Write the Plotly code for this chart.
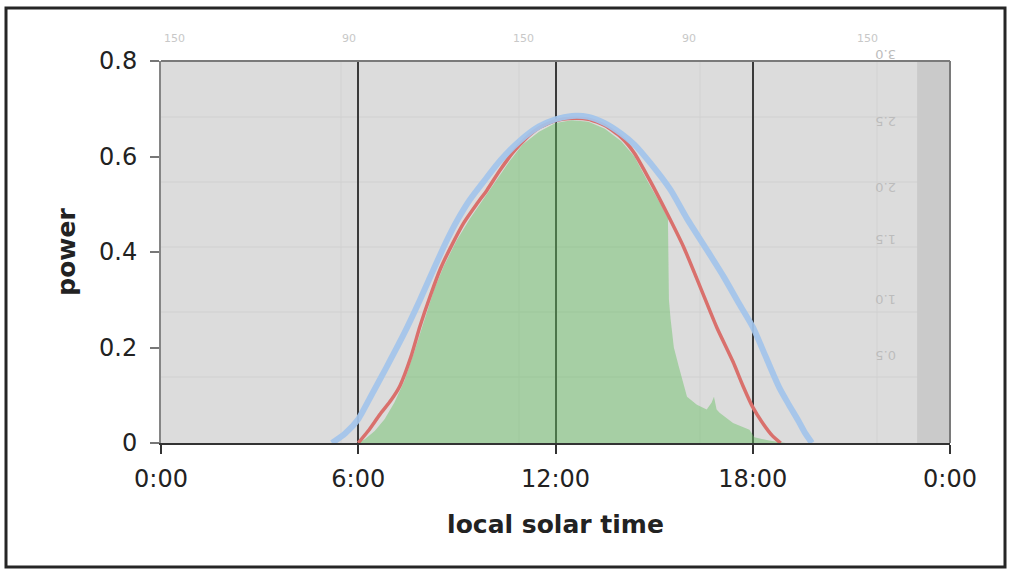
import plotly.graph_objects as go

# ---------------- data ----------------
x_tickvals = [0, 6, 12, 18, 24]
x_ticktext = ["0:00", "6:00", "12:00", "18:00", "0:00"]
y_tickvals = [0, 0.2, 0.4, 0.6, 0.8]
y_ticktext = ["0", "0.2", "0.4", "0.6", "0.8"]

# measured power (green area)
meas_h = [6.0, 6.2, 6.5, 6.8, 7.1, 7.4, 7.7, 8.0, 8.3, 8.6, 9.0, 9.4, 9.8, 10.2,
          10.6, 11.0, 11.5, 12.0, 12.5, 13.0, 13.5, 14.0, 14.4, 14.8, 15.2, 15.42,
          15.45, 15.5, 15.6, 15.75, 15.9, 16.0, 16.3, 16.6, 16.75, 16.82, 16.9,
          17.0, 17.4, 17.9, 18.05, 18.5, 19.0]
meas_p = [0.0, 0.008, 0.025, 0.05, 0.085, 0.13, 0.19, 0.255, 0.32, 0.37, 0.425,
          0.47, 0.51, 0.55, 0.59, 0.625, 0.652, 0.67, 0.676, 0.673, 0.658, 0.632,
          0.6, 0.548, 0.5, 0.47, 0.30, 0.26, 0.2, 0.16, 0.12, 0.097, 0.08, 0.07,
          0.085, 0.097, 0.07, 0.063, 0.042, 0.028, 0.012, 0.005, 0.0]

# red model curve
red_h = [6.0, 6.3, 6.66, 7.0, 7.27, 7.6, 7.88, 8.2, 8.5, 8.85, 9.2, 9.6, 9.92,
         10.3, 10.7, 11.1, 11.5, 12.0, 12.5, 13.0, 13.5, 14.0, 14.4, 14.87, 15.4,
         15.9, 16.4, 16.9, 17.4, 17.7, 18.0, 18.3, 18.6, 18.85]
red_p = [0.0, 0.025, 0.06, 0.09, 0.12, 0.18, 0.245, 0.31, 0.365, 0.415, 0.46, 0.50,
         0.53, 0.57, 0.608, 0.638, 0.66, 0.675, 0.68, 0.678, 0.665, 0.64, 0.607,
         0.55, 0.48, 0.41, 0.327, 0.243, 0.17, 0.12, 0.075, 0.042, 0.015, 0.0]

# blue model curve
blue_h = [5.2, 5.6, 6.0, 6.4, 6.87, 7.4, 7.88, 8.3, 8.7, 9.0, 9.4, 9.9, 10.3,
          10.9, 11.5, 12.0, 12.5, 13.0, 13.5, 14.0, 14.4, 14.9, 15.5, 16.0, 16.6,
          17.1, 17.6, 18.0, 18.4, 18.8, 19.1, 19.4, 19.6, 19.8]
blue_p = [0.0, 0.02, 0.05, 0.1, 0.16, 0.23, 0.30, 0.365, 0.425, 0.465, 0.51, 0.555,
          0.59, 0.632, 0.663, 0.678, 0.685, 0.683, 0.67, 0.648, 0.625, 0.585, 0.53,
          0.47, 0.405, 0.35, 0.29, 0.243, 0.18, 0.117, 0.08, 0.045, 0.02, 0.0]

# faint ghost labels visible in the picture
ghost_top = ["150", "90", "150", "90", "150"]
ghost_right = ["3.0", "2.5", "2.0", "1.5", "1.0", "0.5"]

# ---------------- layout geometry ----------------
W, H = 1015, 575
PL, PR, PT, PB = 161, 950, 61, 443
pw, ph = PR - PL, PB - PT


def px(xp):
    return (xp - PL) / pw


def py(yp):
    return (PB - yp) / ph


fig = go.Figure()

fig.add_trace(go.Scatter(
    x=meas_h, y=meas_p, mode="lines", fill="tozeroy",
    fillcolor="rgba(100,190,95,0.45)", line=dict(width=0, color="rgba(0,0,0,0)"),
    hoverinfo="skip", showlegend=False))
fig.add_trace(go.Scatter(
    x=red_h, y=red_p, mode="lines", line=dict(color="#d9706c", width=3.5,
                                              shape="spline", smoothing=0.6),
    showlegend=False))
fig.add_trace(go.Scatter(
    x=blue_h, y=blue_p, mode="lines", line=dict(color="#a3c5ec", width=6,
                                                shape="spline", smoothing=0.6),
    opacity=0.92, showlegend=False))

shapes = []
# darker band on the right
shapes.append(dict(type="rect", xref="x", yref="y", x0=23, x1=24, y0=0, y1=0.8,
                   fillcolor="#cacaca", line=dict(width=0), layer="below"))
# faint ghost grid lines
for xp in [341, 519, 700, 877]:
    shapes.append(dict(type="line", xref="paper", yref="paper", x0=px(xp), x1=px(xp),
                       y0=0, y1=1, line=dict(color="#d2d2d2", width=1), layer="below"))
for yp in [117, 182, 247, 312, 377]:
    shapes.append(dict(type="line", xref="paper", yref="paper", x0=0, x1=1,
                       y0=py(yp), y1=py(yp), line=dict(color="#d0d0d0", width=1),
                       layer="below"))
# plot frame top & right
shapes.append(dict(type="line", xref="paper", yref="paper", x0=0, x1=1, y0=1, y1=1,
                   line=dict(color="#7a7a7a", width=2), layer="above"))
shapes.append(dict(type="line", xref="paper", yref="paper", x0=1, x1=1, y0=0, y1=1,
                   line=dict(color="#7a7a7a", width=2), layer="above"))
# outer frame of the image
shapes.append(dict(type="rect", xref="paper", yref="paper",
                   x0=px(6), x1=px(1005), y0=py(567), y1=py(8),
                   line=dict(color="#262626", width=3), fillcolor="rgba(0,0,0,0)",
                   layer="above"))

annotations = []
for t, xp in zip(ghost_top, [162, 340, 523, 698, 880]):
    annotations.append(dict(text=t, xref="paper", yref="paper", x=px(xp), y=py(30),
                            showarrow=False, font=dict(size=11, color="#c8c8c8",
                                                       family="DejaVu Sans")))
for t, yp in zip(ghost_right, [45, 112, 178, 240, 300, 365]):
    annotations.append(dict(text=t, xref="paper", yref="paper", x=px(898), y=py(yp),
                            showarrow=False, textangle=180,
                            font=dict(size=13, color="#bcbcbc", family="DejaVu Sans")))

fig.update_layout(
    width=W, height=H, autosize=False,
    margin=dict(l=PL, r=W - PR, t=PT, b=H - PB),
    paper_bgcolor="white", plot_bgcolor="#dcdcdc",
    font=dict(family="DejaVu Sans", color="#222222"),
    shapes=shapes, annotations=annotations,
    xaxis=dict(range=[0, 24], tickvals=x_tickvals, ticktext=x_ticktext,
               showgrid=True, gridcolor="#3a3a3a", gridwidth=1.5, zeroline=False,
               showline=True, linecolor="#333333", linewidth=2,
               ticks="outside", ticklen=9, tickwidth=2, tickcolor="#333333",
               ticklabelstandoff=4,
               tickfont=dict(size=24, family="DejaVu Sans", color="#222222"),
               title=dict(text="local solar time", standoff=24,
                          font=dict(size=25, family="DejaVu Sans", weight="bold",
                                    color="#222222"))),
    yaxis=dict(range=[0, 0.8], tickvals=y_tickvals, ticktext=y_ticktext,
               showgrid=False, zeroline=False,
               showline=True, linecolor="#858585", linewidth=2,
               ticks="outside", ticklen=9, tickwidth=2, tickcolor="#777777",
               ticklabelstandoff=8,
               tickfont=dict(size=24, family="DejaVu Sans", color="#222222"),
               title=dict(text="power", standoff=16,
                          font=dict(size=25, family="DejaVu Sans", weight="bold",
                                    color="#222222"))),
)

fig.write_html("out.html")
